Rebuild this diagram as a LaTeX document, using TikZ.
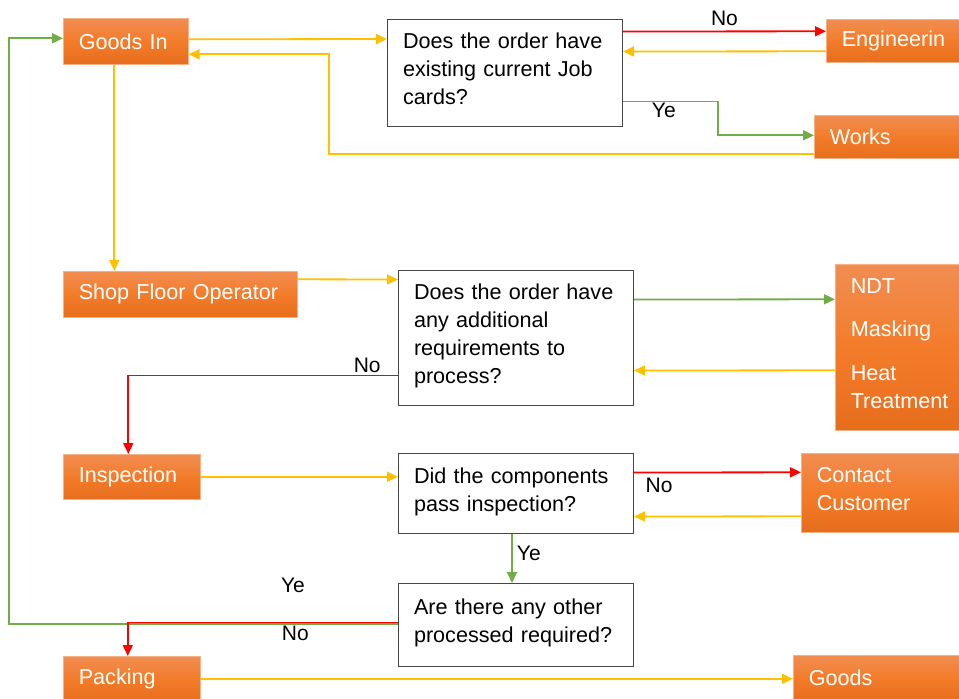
\documentclass[tikz,border=0pt]{standalone}
\usepackage{fontspec}
\setmainfont{Liberation Sans}
\usepackage{tikz}
\usetikzlibrary{arrows.meta}
\hyphenpenalty=10000
\definecolor{ylw}{RGB}{255,192,0}
\definecolor{grn}{RGB}{112,173,71}
\definecolor{rd}{RGB}{255,0,0}
\definecolor{orTop}{RGB}{241,141,82}
\definecolor{orMid}{RGB}{243,124,42}
\definecolor{orBot}{RGB}{230,109,28}
\definecolor{orEdge}{RGB}{246,178,135}
\definecolor{qEdge}{RGB}{70,70,70}

\begin{document}
\begin{tikzpicture}[x=1pt, y=-1pt,
  stage/.style={anchor=north west, top color=orTop, bottom color=orBot, middle color=orMid, draw=orEdge, line width=0.6pt, text=white, align=left, inner xsep=15.5pt, inner ysep=0pt, font=\fontsize{21.6}{28}\selectfont},
  ask/.style={anchor=north west, draw=qEdge, fill=white, line width=1pt, align=left, inner xsep=15.5pt, inner ysep=0pt, font=\fontsize{21.6}{28}\selectfont},
  flow/.style={-{Triangle[length=11pt,width=10pt]}, line width=1.8pt},
  lbl/.style={inner sep=1pt, text=black, font=\fontsize{21}{25}\selectfont}]
\useasboundingbox (0,0) rectangle (959,699);

\node[stage, text width=94pt, minimum height=46pt] (goodsin) at (63,18) {Goods In};
\node[ask, text width=204pt, minimum height=107pt] (q1) at (387,19) {Does the order have\\existing current Job\\cards?\strut};
\node[stage, text width=119pt, minimum height=43pt] (eng) at (826,19) {Engineerin};
\node[stage, text width=129pt, minimum height=43pt] (works) at (814,115) {Works};
\node[stage, text width=203pt, minimum height=46pt] (shop) at (63,271) {Shop Floor Operator};
\node[ask, text width=204pt, minimum height=135pt] (q2) at (398,270) {Does the order have\\any additional\\requirements to\\process?\strut};
\node[stage, text width=109pt, minimum height=166pt] (proc) at (835,264) {NDT\\[15pt]Masking\\[16pt]Heat\\Treatment\strut};
\node[stage, text width=106pt, minimum height=45pt] (insp) at (63,454) {Inspection};
\node[ask, text width=204pt, minimum height=80pt] (q3) at (398,453) {Did the components\\pass inspection?\strut};
\node[stage, text width=144pt, minimum height=79pt] (cust) at (801,453) {Contact\\Customer\strut};
\node[ask, text width=204pt, minimum height=83pt] (q4) at (398,583) {Are there any other\\processed required?\strut};
\node[stage, text width=106pt, minimum height=45pt] (pack) at (63,656) {Packing};
\node[stage, text width=149pt, minimum height=45pt] (goods) at (793,655) {Goods};

\draw[flow, ylw] ([yshift=2pt]goodsin.east) -- ([yshift=34pt]q1.west);
\draw[flow, rd] ([yshift=41.5pt]q1.east) -- node[lbl, above=4pt] {No} ([yshift=9.5pt]eng.west);
\draw[flow, ylw] ([yshift=-10.5pt]eng.west) -- ([yshift=21.5pt]q1.east);
\draw[flow, grn] ([yshift=-28.5pt]q1.east) -- node[lbl, below=0pt, pos=0.43] {Ye} ++(95,0) |- ([yshift=1.5pt]works.west);
\draw[flow, ylw] ([yshift=-17.5pt]works.west) -- ++(-485,0) |- ([yshift=-13pt]goodsin.east);
\draw[flow, ylw] ([xshift=-11.5pt]goodsin.south) -- ([xshift=-66pt]shop.north);
\draw[flow, ylw] ([yshift=15pt]shop.east) -- ([yshift=58.5pt]q2.west);
\draw[flow, grn] ([yshift=38.5pt]q2.east) -- ([yshift=48pt]proc.west);
\draw[flow, ylw] ([yshift=-23pt]proc.west) -- ([yshift=-32.5pt]q2.east);
\draw[flow, rd] ([yshift=-37.5pt]q2.west) -| node[lbl, above=1pt, pos=0.057] {No} ([xshift=-3.5pt]insp.north);
\draw[flow, ylw] (insp.east) -- (insp.east -| q3.west);
\draw[flow, rd] ([yshift=21pt]q3.east) -- node[lbl, below=4pt, pos=0.15] {No} ([yshift=20.5pt]cust.west);
\draw[flow, ylw] ([yshift=-23.5pt]cust.west) -- ([yshift=-23pt]q3.east);
\draw[flow, grn] ([xshift=-4pt]q3.south) -- node[lbl, right=3pt, pos=0.4] {Ye} ([xshift=-4pt]q4.north);
\draw[flow, grn] ([yshift=1pt]q4.west) -- node[lbl, above=29pt, pos=0.27] {Ye} ++(-389,0) |- ([yshift=3pt]goodsin.west);
\draw[flow, rd] ([yshift=2.5pt]q4.west) -| node[lbl, below=2pt, pos=0.19] {No} ([xshift=-4pt]pack.north);
\draw[flow, ylw] (pack.east) -- (pack.east -| goods.west);
\end{tikzpicture}
\end{document}
